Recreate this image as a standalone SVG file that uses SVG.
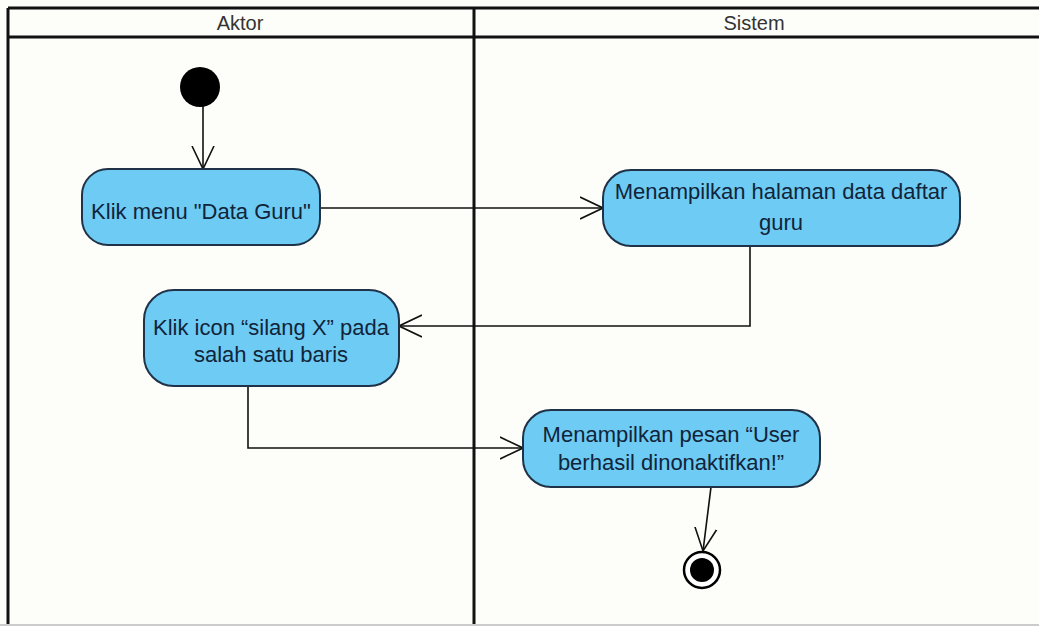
<svg xmlns="http://www.w3.org/2000/svg" width="1039" height="626" viewBox="0 0 1039 626">
<style>
.lane{fill:none;stroke:#111;stroke-width:3}
.hdr{font-family:"Liberation Sans",Arial,sans-serif;font-size:20px;fill:#333;text-anchor:middle}
.act{fill:#6ECBF3;stroke:#1F3247;stroke-width:2}
.lbl{font-family:"Liberation Sans",Arial,sans-serif;font-size:22px;fill:#11243A;text-anchor:middle}
.conn{fill:none;stroke:#111;stroke-width:1.6}
</style>
<defs>
<marker id="open" viewBox="0 0 24 24" refX="23" refY="12" markerWidth="24" markerHeight="24" markerUnits="userSpaceOnUse" orient="auto">
<path d="M0,1 L23,12 L0,23" fill="none" stroke="#111" stroke-width="1.6"/>
</marker>
</defs>
<rect x="0" y="0" width="1039" height="626" fill="#FDFDF9"/>
<g id="swimlanes">
<line class="lane" x1="8" y1="8" x2="1039" y2="8"/>
<line class="lane" x1="8" y1="37" x2="1039" y2="37"/>
<line class="lane" x1="8" y1="8" x2="8" y2="626"/>
<line class="lane" x1="474" y1="8" x2="474" y2="626"/>
<line x1="0" y1="625" x2="1039" y2="625" stroke="#ccc" stroke-width="2"/>
<text class="hdr" x="240" y="30">Aktor</text>
<text class="hdr" x="754" y="30">Sistem</text>
</g>
<g id="connectors">
<line class="conn" x1="203" y1="106" x2="203" y2="169" marker-end="url(#open)"/>
<line class="conn" x1="320" y1="208" x2="603" y2="208" marker-end="url(#open)"/>
<polyline class="conn" points="750,246 750,326 399,326" marker-end="url(#open)"/>
<polyline class="conn" points="248,386 248,448 523,448" marker-end="url(#open)"/>
<line class="conn" x1="711" y1="487" x2="703" y2="551" marker-end="url(#open)"/>
</g>
<g id="start">
<circle cx="200" cy="87" r="20" fill="#000"/>
</g>
<g id="a1">
<rect class="act" x="82" y="169" width="238" height="76" rx="26"/>
<text class="lbl" x="201" y="219">Klik menu "Data Guru"</text>
</g>
<g id="a2">
<rect class="act" x="603" y="170" width="357" height="76" rx="28"/>
<text class="lbl" x="781" y="199">Menampilkan halaman data daftar</text>
<text class="lbl" x="781" y="230">guru</text>
</g>
<g id="a3">
<rect class="act" x="144" y="290" width="255" height="96" rx="30"/>
<text class="lbl" x="271" y="335">Klik icon “silang X” pada</text>
<text class="lbl" x="271" y="362">salah satu baris</text>
</g>
<g id="a4">
<rect class="act" x="523" y="410" width="297" height="77" rx="28"/>
<text class="lbl" x="671" y="442">Menampilkan pesan “User</text>
<text class="lbl" x="671" y="470">berhasil dinonaktifkan!”</text>
</g>
<g id="end">
<circle cx="702" cy="570" r="18" fill="#fff" stroke="#000" stroke-width="2.5"/>
<circle cx="702" cy="570" r="12" fill="#000"/>
</g>
</svg>
